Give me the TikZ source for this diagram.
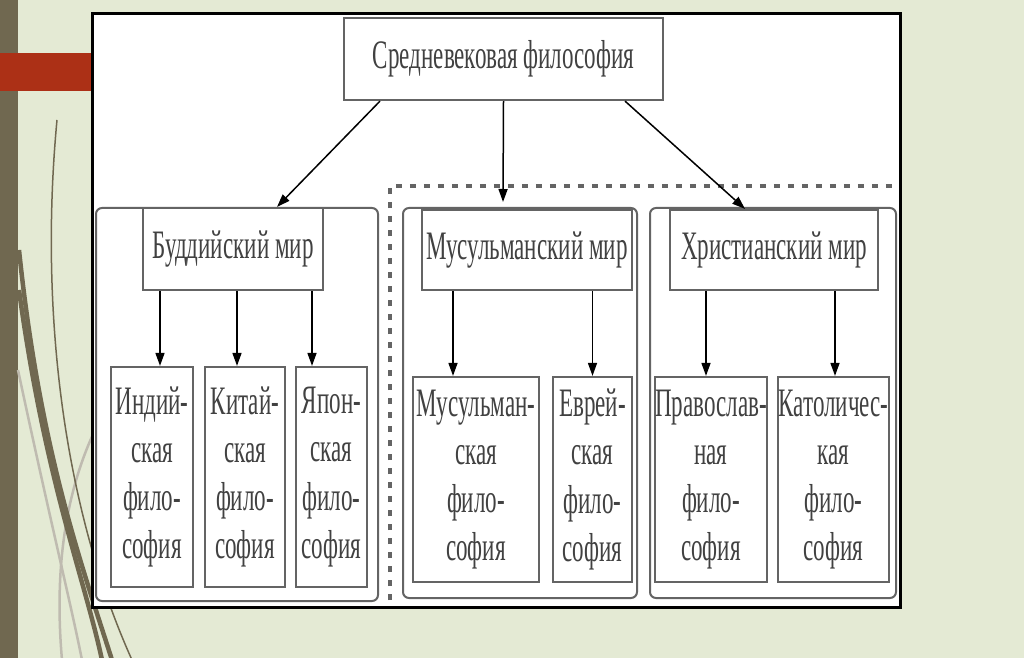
\documentclass[tikz,border=0pt]{standalone}
\usepackage{fontspec}
\setmainfont{Liberation Serif}[FakeStretch=0.57]
\usetikzlibrary{arrows.meta, positioning}
\definecolor{slidebg}{RGB}{228,234,212}
\definecolor{slideolive}{RGB}{112,104,80}
\definecolor{slidered}{RGB}{172,48,22}
\definecolor{boxgray}{RGB}{100,100,100}
\definecolor{textgray}{RGB}{65,65,65}

\begin{document}
\begin{tikzpicture}[x=0.1mm, y=-0.1mm,
  box/.style={draw=boxgray, line width=0.22mm, fill=white, text=textgray, inner sep=0pt, font=\fontsize{11.5}{13.7}\selectfont},
  leaf/.style={box, align=center},
  arr/.style={draw=black, line width=0.15mm, -{Triangle[length=1.3mm,width=0.9mm]}},
  group/.style={draw=boxgray, line width=0.2mm, rounded corners=0.6mm}]
 \fill[slidebg] (0,0) rectangle (1024,658);
 \fill[slideolive] (0,0) rectangle (18,658);
 \begin{scope}
  \clip (0,0) rectangle (1024,658);
  \draw[slideolive!45, line width=0.25mm] (18,370) .. controls (50,520) and (70,600) .. (82,660);
  \draw[slideolive!45, line width=0.25mm] (95,430) .. controls (62,500) and (55,580) .. (62,660);
  \draw[slideolive, line width=0.15mm] (57,120) .. controls (40,300) and (60,500) .. (132,660);
  \draw[slideolive, line width=0.45mm] (19,250) .. controls (40,450) and (80,560) .. (112,660);
  \draw[slideolive, line width=0.45mm] (19,290) .. controls (45,480) and (85,580) .. (102,660);
 \end{scope}
 \fill[slidered] (0,53) rectangle (95,91);
 \draw[black, line width=0.3mm, fill=white] (92,14) rectangle (900,607);

 \draw[group] (96,208) rectangle (378,601);
 \draw[group] (403,208) rectangle (637,598);
 \draw[group] (650,208) rectangle (896,598);
 \draw[boxgray, line width=0.4mm, dash pattern=on 0.6mm off 0.8mm] (390,600) -- (390,186) -- (897,186);

 \node[box, minimum width=31.9mm, minimum height=8.2mm] (top) at (503.5,59) {Средневековая философия};
 \node[box, minimum width=18mm, minimum height=8.2mm] (buddh) at (233,249) {Буддийский мир};
 \node[box, minimum width=21mm, minimum height=8mm] (musl) at (527,250) {Мусульманский мир};
 \node[box, minimum width=20.8mm, minimum height=8mm] (christ) at (774,250) {Христианский мир};

 \node[leaf, minimum width=8.2mm, minimum height=22mm] (ind) at (152,477) {Индий-\\ская\\фило-\\софия};
 \node[leaf, minimum width=8mm, minimum height=22mm] (chin) at (245,477) {Китай-\\ская\\фило-\\софия};
 \node[leaf, minimum width=7.1mm, minimum height=22mm] (jap) at (331.5,477) {Япон-\\ская\\фило-\\софия};
 \node[leaf, minimum width=12.6mm, minimum height=20.5mm] (muslph) at (476,479.5) {Мусульман-\\ская\\фило-\\софия};
 \node[leaf, minimum width=7.9mm, minimum height=20.5mm] (jew) at (592.5,479.5) {Еврей-\\ская\\фило-\\софия};
 \node[leaf, minimum width=11.2mm, minimum height=20.5mm] (orth) at (711,479.5) {Православ-\\ная\\фило-\\софия};
 \node[leaf, minimum width=11.1mm, minimum height=20.5mm] (cath) at (833.5,479.5) {Католичес-\\кая\\фило-\\софия};

 \coordinate (midend) at (503,202);
 \draw[arr] ([xshift=-12.35mm]top.south) -- ([xshift=4.4mm]buddh.north);
 \draw[arr] (top.south) -- (midend);
 \draw[arr] ([xshift=12.15mm]top.south) -- ([xshift=-2.9mm]christ.north);
 \foreach \lf/\dx in {ind/0.8, chin/-0.8, jap/-1.95}
   \draw[arr] ([xshift=\dx mm]\lf.north |- buddh.south) -- ([xshift=\dx mm]\lf.north);
 \foreach \lf/\dx in {muslph/-2.3, jew/0}
   \draw[arr] ([xshift=\dx mm]\lf.north |- musl.south) -- ([xshift=\dx mm]\lf.north);
 \foreach \lf/\dx in {orth/-0.5, cath/0.15}
   \draw[arr] ([xshift=\dx mm]\lf.north |- christ.south) -- ([xshift=\dx mm]\lf.north);
\end{tikzpicture}
\end{document}
